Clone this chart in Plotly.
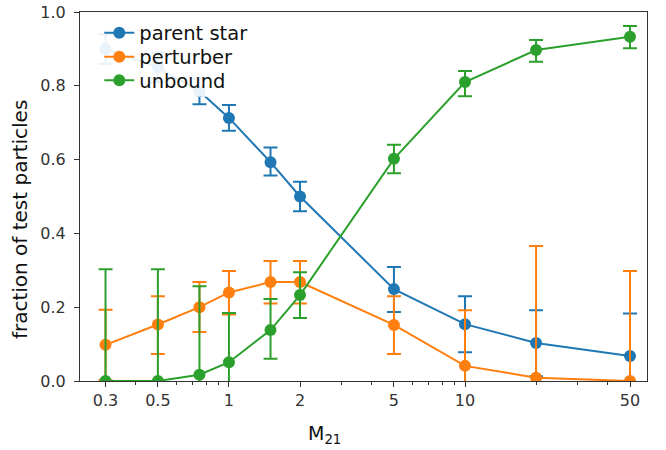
import plotly.graph_objects as go

# Data
m21 = [0.3, 0.5, 0.75, 1, 1.5, 2, 5, 10, 20, 50]

parent = [0.90, 0.85, 0.785, 0.713, 0.593, 0.50, 0.249, 0.154, 0.103, 0.068]
parent_up = [0.04, 0.04, 0.035, 0.035, 0.04, 0.04, 0.06, 0.076, 0.089, 0.115]
parent_dn = [0.04, 0.04, 0.035, 0.035, 0.036, 0.04, 0.062, 0.076, 0.09, 0.115]

perturber = [0.098, 0.153, 0.20, 0.24, 0.268, 0.268, 0.152, 0.041, 0.009, 0.0]
perturber_up = [0.095, 0.077, 0.068, 0.058, 0.057, 0.057, 0.078, 0.151, 0.357, 0.298]
perturber_dn = [0.095, 0.080, 0.067, 0.060, 0.058, 0.058, 0.079, 0.151, 0.357, 0.298]

unbound = [0.0, 0.0, 0.017, 0.051, 0.138, 0.233, 0.602, 0.81, 0.897, 0.933]
unbound_up = [0.303, 0.303, 0.24, 0.133, 0.084, 0.062, 0.038, 0.03, 0.027, 0.029]
unbound_dn = [0.303, 0.303, 0.24, 0.133, 0.078, 0.062, 0.039, 0.038, 0.032, 0.031]

names = ["parent star", "perturber", "unbound"]
colors = ["#1f77b4", "#ff7f0e", "#2ca02c"]

xtick_vals = [0.3, 0.5, 1, 2, 5, 10, 50]
xtick_text = ["0.3", "0.5", "1", "2", "5", "10", "50"]
minor_vals = [0.4, 0.6, 0.7, 0.8, 0.9, 3, 4, 6, 7, 8, 9, 20, 30, 40]
ytick_vals = [0.0, 0.2, 0.4, 0.6, 0.8, 1.0]
ytick_text = ["0.0", "0.2", "0.4", "0.6", "0.8", "1.0"]

x_title = "M<sub>21</sub>"
y_title = "fraction of test particles"

fig = go.Figure()
series = [(parent, parent_up, parent_dn), (perturber, perturber_up, perturber_dn),
          (unbound, unbound_up, unbound_dn)]
legend_ids = ["legend", "legend2", "legend3"]
for (vals, up, dn), name, col, lg in zip(series, names, colors, legend_ids):
    fig.add_trace(go.Scatter(
        x=m21, y=vals, name=name, mode="lines+markers", legend=lg,
        line=dict(color=col, width=2),
        marker=dict(color=col, size=12),
        error_y=dict(type="data", symmetric=False, array=up, arrayminus=dn,
                     color=col, thickness=2, width=7),
    ))

W, H = 666, 450
PL, PR, PT, PB = 80, 19, 12, 69

def leg(yc):
    return dict(x=0.034, y=yc, xanchor="left", yanchor="middle",
                bgcolor="rgba(0,0,0,0)", borderwidth=0,
                font=dict(size=19.5, color="#111"))

fig.update_layout(
    width=W, height=H,
    margin=dict(l=PL, r=PR, t=PT, b=PB),
    paper_bgcolor="white", plot_bgcolor="white",
    font=dict(family="DejaVu Sans", size=16, color="#333"),
    showlegend=True,
    legend=leg(0.943), legend2=leg(0.878), legend3=leg(0.814),
    xaxis=dict(type="log", range=[-0.631, 1.771], automargin=False,
               tickvals=xtick_vals, ticktext=xtick_text,
               ticks="outside", ticklen=5, tickwidth=1, tickcolor="#333",
               tickfont=dict(size=16, color="#333"),
               showline=True, linecolor="#333", linewidth=1, mirror=True,
               showgrid=False, zeroline=False,
               minor=dict(tickvals=minor_vals, ticks="outside", ticklen=3,
                          tickcolor="#333", showgrid=False)),
    yaxis=dict(range=[0, 1.0], tickvals=ytick_vals, ticktext=ytick_text, automargin=False,
               ticks="outside", ticklen=5, tickwidth=1, tickcolor="#333",
               tickfont=dict(size=16, color="#333"), ticklabelstandoff=5,
               showline=True, linecolor="#333", linewidth=1, mirror=True,
               showgrid=False, zeroline=False),
    shapes=[dict(type="rect", xref="paper", yref="paper",
                 x0=0.0106, x1=0.321, y0=0.770, y1=0.984,
                 fillcolor="rgba(255,255,255,0.9)", line=dict(width=0), layer="above")],
    annotations=[
        dict(text=x_title, xref="paper", yref="paper", x=0.432, y=-0.144,
             xanchor="center", yanchor="middle", showarrow=False,
             font=dict(size=19, color="#111")),
        dict(text=y_title, xref="paper", yref="paper", x=(20 - 80) / 567, y=0.436,
             xanchor="center", yanchor="middle", textangle=-90, showarrow=False,
             font=dict(size=20, color="#111")),
    ],
)

fig.write_html("out.html", config={"displayModeBar": False},
               post_script="document.body.style.margin='0';")
